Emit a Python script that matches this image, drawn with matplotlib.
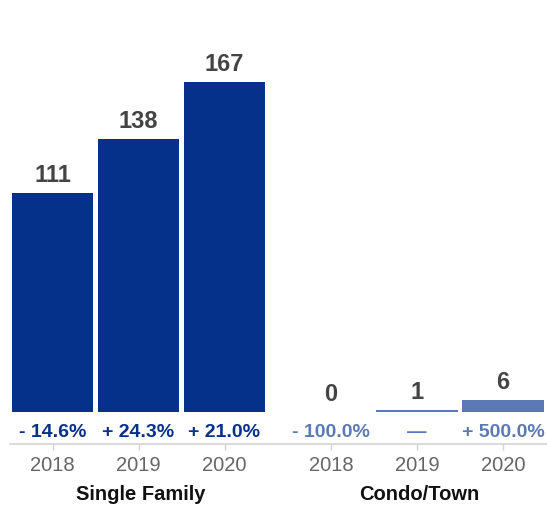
import matplotlib
matplotlib.use("Agg")
import matplotlib.pyplot as plt
from matplotlib.transforms import blended_transform_factory

plt.rcParams['font.family'] = ['Liberation Sans', 'DejaVu Sans']

# Data
groups = ["Single Family", "Condo/Town"]
years = ["2018", "2019", "2020"]
single_family = [111, 138, 167]
condo_town = [0, 1, 6]
sf_change = ["- 14.6%", "+ 24.3%", "+ 21.0%"]
ct_change = ["- 100.0%", "\u2014", "+ 500.0%"]

# Styling
SF_COLOR = "#05318a"
CT_COLOR = "#5b7ab5"
VALUE_COLOR = "#444444"
TICK_COLOR = "#666666"
AXIS_COLOR = "#d4d4d4"

W, H = 547, 509
fig = plt.figure(figsize=(W / 100, H / 100), dpi=100)

# pixel layout of the plotting band
px_per_unit = 1.975
axis_px = 444          # y (from top) of the axis line
base_px = 412          # y (from top) of the bar baseline
y_low = -(axis_px - base_px) / px_per_unit
y_high = base_px / px_per_unit
ax = fig.add_axes([0, (H - axis_px) / H, 1, axis_px / H])
ax.set_xlim(0, W)
ax.set_ylim(y_low, y_high)

step = 86
bar_w = 81.6
first_center = [52.5, 331]
series = [single_family, condo_town]
changes = [sf_change, ct_change]
colors = [SF_COLOR, CT_COLOR]

tick_pos, tick_lab = [], []
group_centers = []
for g, (vals, chg, col) in enumerate(zip(series, changes, colors)):
    xs = [first_center[g] + i * step for i in range(len(vals))]
    ax.bar(xs, vals, width=bar_w, color=col, linewidth=0)
    for x, v, c in zip(xs, vals, chg):
        ax.annotate(str(v), (x, v), xytext=(0, 8), textcoords="offset points",
                    ha="center", va="baseline", fontsize=17,
                    fontweight="bold", color=VALUE_COLOR)
        ax.text(x, -(437 - base_px) / px_per_unit, c, ha="center",
                va="baseline", fontsize=14, fontweight="bold", color=col)
    tick_pos += xs
    tick_lab += years
    group_centers.append(sum(xs) / len(xs))

ax.set_xticks(tick_pos)
ax.set_xticklabels(tick_lab, fontsize=14.5, color=TICK_COLOR)
ax.tick_params(axis="x", length=4, color=AXIS_COLOR, width=1, pad=4.5)
ax.set_yticks([])
for s in ["top", "right", "left"]:
    ax.spines[s].set_visible(False)
ax.spines["bottom"].set_color(AXIS_COLOR)
ax.spines["bottom"].set_linewidth(1.2)
ax.spines["bottom"].set_bounds(10, W)

trans = blended_transform_factory(ax.transData, fig.transFigure)
for gx, name in zip(group_centers, groups):
    ax.text(gx + 2, (H - 500) / H, name, transform=trans, ha="center",
            va="baseline", fontsize=14.5, fontweight="bold", color="#111111",
            clip_on=False)

fig.savefig("out.png", dpi=100)
